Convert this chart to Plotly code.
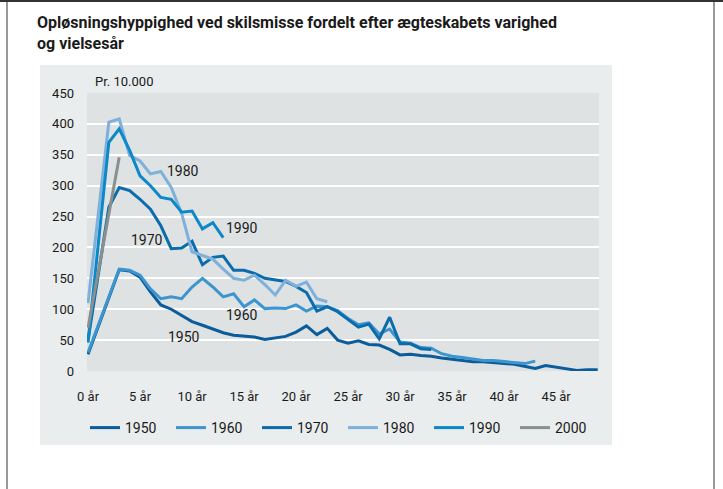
import plotly.graph_objects as go

years_1950 = list(range(0, 50))
v1950 = [27, 72, 118, 164, 162, 152, 128, 107, 100, 90, 80, 74, 68, 62, 58, 56, 55, 51, 54, 56,
         63, 73, 59, 69, 50, 45, 49, 43, 42, 35, 26, 27, 25, 24, 21, 19, 17, 15, 15, 13,
         12, 11, 8, 4, 9, 6, 3, 1, 2, 2]
years_1960 = list(range(0, 44))
v1960 = [30, 75, 120, 165, 163, 155, 133, 117, 120, 117, 136, 150, 136, 120, 125, 104, 115, 101, 102, 101,
         107, 97, 105, 104, 98, 85, 75, 78, 60, 68, 47, 45, 38, 37, 28, 24, 22, 20, 17, 17,
         15, 13, 12, 16]
years_1970 = list(range(0, 34))
v1970 = [50, 160, 265, 297, 292, 278, 262, 235, 198, 199, 210, 172, 184, 186, 163, 163, 158, 150, 147, 145,
         137, 127, 97, 104, 96, 83, 71, 76, 52, 87, 44, 44, 36, 35]
years_1980 = list(range(0, 24))
v1980 = [110, 255, 403, 408, 349, 340, 319, 323, 297, 255, 193, 187, 181, 165, 150, 147, 155, 140, 123, 147,
         137, 144, 117, 112]
years_1990 = list(range(0, 14))
v1990 = [46, 205, 370, 392, 357, 316, 300, 281, 278, 257, 259, 230, 240, 216]
years_2000 = list(range(0, 4))
v2000 = [70, 160, 255, 346]

series_names = ["1950", "1960", "1970", "1980", "1990", "2000"]
series_x = [years_1950, years_1960, years_1970, years_1980, years_1990, years_2000]
series_y = [v1950, v1960, v1970, v1980, v1990, v2000]
colors = ["#0b5c9a", "#3d95d0", "#0a6cad", "#7eb0dc", "#0a88c8", "#8a8f90"]

x_tickvals = [0, 5, 10, 15, 20, 25, 30, 35, 40, 45]
x_ticktext = ["0 år", "5 år", "10 år", "15 år", "20 år", "25 år", "30 år", "35 år", "40 år", "45 år"]
y_tickvals = [0, 50, 100, 150, 200, 250, 300, 350, 400, 450]

FONT = "Roboto, Liberation Sans Narrow, DejaVu Sans Condensed, sans-serif"
TXT = "#1a1a1a"

fig = go.Figure()
for name, xs, ys, c in zip(series_names, series_x, series_y, colors):
    fig.add_trace(go.Scatter(x=xs, y=ys, mode="lines", name=name,
                             line=dict(color=c, width=3, shape="linear")))

W, H = 723, 489
L, R, T, B = 87, 599, 93, 371


def px(xp):
    return (xp - L) / (R - L)


def py(yp):
    return (B - yp) / (B - T)


shapes = [
    dict(type="rect", xref="paper", yref="paper", x0=px(40), x1=px(612), y0=py(445), y1=py(65),
         fillcolor="#e9eded", line=dict(width=0), layer="below"),
    dict(type="rect", xref="paper", yref="paper", x0=0, x1=1, y0=0, y1=1,
         fillcolor="#dee2e2", line=dict(width=0), layer="below"),
    dict(type="line", xref="paper", yref="paper", x0=px(0), x1=px(723), y0=py(1), y1=py(1),
         line=dict(color="#333333", width=2)),
    dict(type="line", xref="paper", yref="paper", x0=px(7), x1=px(7), y0=py(0), y1=py(489),
         line=dict(color="#333333", width=1)),
    dict(type="line", xref="paper", yref="paper", x0=px(714), x1=px(714), y0=py(0), y1=py(489),
         line=dict(color="#333333", width=1)),
]

annotations = [
    dict(text="<b>Opløsningshyppighed ved skilsmisse fordelt efter ægteskabets varighed<br>og vielsesår</b>",
         xref="paper", yref="paper", x=px(35), y=py(11), xanchor="left", yanchor="top",
         align="left", showarrow=False, font=dict(family=FONT, size=16, color=TXT)),
    dict(text="Pr. 10.000", xref="paper", yref="paper", x=px(93), y=py(81), xanchor="left",
         yanchor="middle", showarrow=False, font=dict(family=FONT, size=13, color=TXT)),
]
labels = [("1980", 9.1, 324), ("1990", 14.8, 231), ("1970", 5.7, 212), ("1960", 14.8, 90), ("1950", 9.2, 55)]
for t, lx, ly in labels:
    annotations.append(dict(text=t, x=lx, y=ly, xref="x", yref="y", showarrow=False,
                            font=dict(family=FONT, size=14, color=TXT)))

fig.update_layout(
    width=W, height=H,
    margin=dict(l=L, r=W - R, t=T, b=H - B),
    paper_bgcolor="white",
    plot_bgcolor="rgba(0,0,0,0)",
    font=dict(family=FONT, size=13, color=TXT),
    shapes=shapes,
    annotations=annotations,
    showlegend=True,
    legend=dict(orientation="h", x=px(85), y=py(428), xanchor="left", yanchor="middle",
                bgcolor="rgba(0,0,0,0)", entrywidth=41, entrywidthmode="pixels",
                itemwidth=30, tracegroupgap=0,
                font=dict(family=FONT, size=14, color=TXT)),
    xaxis=dict(range=[-0.1, 49.13], tickvals=x_tickvals, ticktext=x_ticktext,
               showgrid=False, zeroline=False, showline=False, ticks="",
               ticklabelstandoff=16, tickfont=dict(family=FONT, size=13, color=TXT)),
    yaxis=dict(range=[0, 450], tickvals=y_tickvals, showgrid=True, gridcolor="white",
               gridwidth=1.5, zeroline=False, showline=False, ticks="",
               ticklabelstandoff=12, tickfont=dict(family=FONT, size=13, color=TXT)),
)

fig.write_html("out.html", config={"displayModeBar": False},
               post_script="document.body.style.margin='0';document.body.style.overflow='hidden';")
